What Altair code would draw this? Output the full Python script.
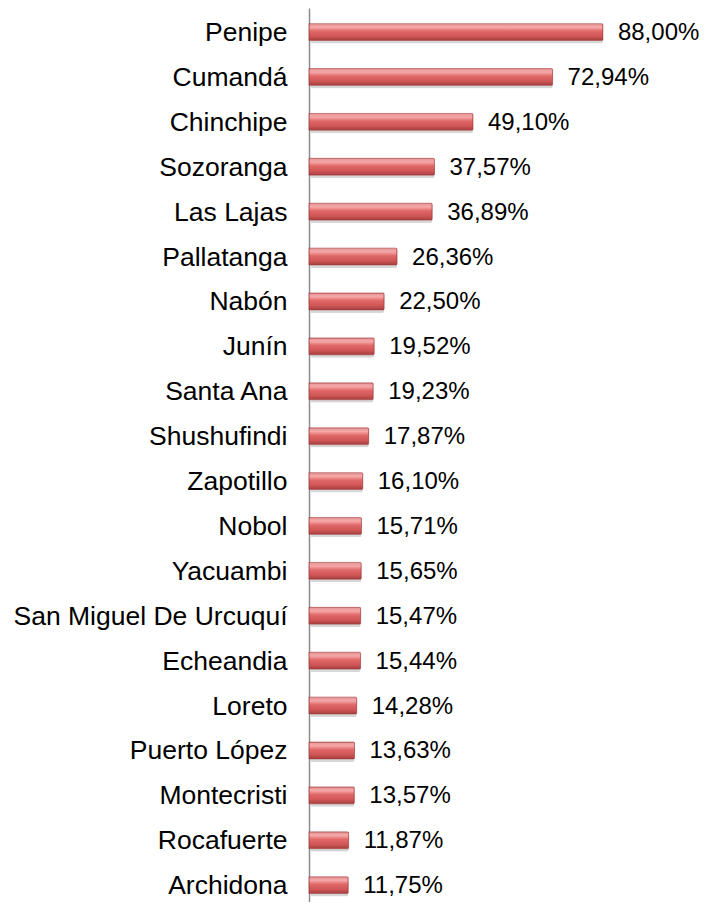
import altair as alt
import pandas as pd

categories = ["Penipe", "Cumandá", "Chinchipe", "Sozoranga", "Las Lajas", "Pallatanga",
              "Nabón", "Junín", "Santa Ana", "Shushufindi", "Zapotillo", "Nobol",
              "Yacuambi", "San Miguel De Urcuquí", "Echeandia", "Loreto", "Puerto López",
              "Montecristi", "Rocafuerte", "Archidona"]
values = [88.00, 72.94, 49.10, 37.57, 36.89, 26.36, 22.50, 19.52, 19.23, 17.87,
          16.10, 15.71, 15.65, 15.47, 15.44, 14.28, 13.63, 13.57, 11.87, 11.75]

df = pd.DataFrame({
    "cat": categories,
    "val": values,
    "label": [f"{v:.2f}".replace(".", ",") + "%" for v in values],
})

y = alt.Y("cat:N", sort=categories, title=None,
          scale=alt.Scale(paddingInner=0.625, paddingOuter=0.268, align=0.65),
          axis=alt.Axis(ticks=False, labelFontSize=26.5, labelFont="Liberation Sans",
                        labelColor="#000000", labelPadding=22, labelOffset=1,
                        domainColor="#8c8c8c", domainWidth=1.5, labelLimit=400))
x = alt.X("val:Q", title=None, scale=alt.Scale(domain=[0, 100], nice=False), axis=None)

base = alt.Chart(df)

shadow = base.mark_bar(color="#6e6e6e", opacity=0.28, xOffset=2, yOffset=3,
                       cornerRadiusEnd=2).encode(x=x, y=y)

grad = alt.Gradient(gradient="linear", x1=0, x2=0, y1=0, y2=1, stops=[
    alt.GradientStop(offset=0.0, color="#e49696"),
    alt.GradientStop(offset=0.22, color="#f6a8a8"),
    alt.GradientStop(offset=0.45, color="#e06868"),
    alt.GradientStop(offset=0.75, color="#d05656"),
    alt.GradientStop(offset=1.0, color="#a43e3e"),
])
bars = base.mark_bar(color=grad, stroke="#a53c3c", strokeWidth=0.6,
                     cornerRadiusEnd=1).encode(x=x, y=y)

text = base.mark_text(align="left", baseline="middle", dx=15, dy=1, fontSize=24,
                      font="Liberation Sans", color="#000000").encode(
    x=x, y=y, text="label:N")

chart = alt.layer(shadow, bars, text).properties(
    width=334, height=894,
    autosize=alt.AutoSizeParams(type="none"),
    padding={"left": 301, "top": 0, "right": 59, "bottom": 0},
).configure_view(stroke=None)

chart.save("out.html", embed_options={"renderer": "svg", "actions": False})
